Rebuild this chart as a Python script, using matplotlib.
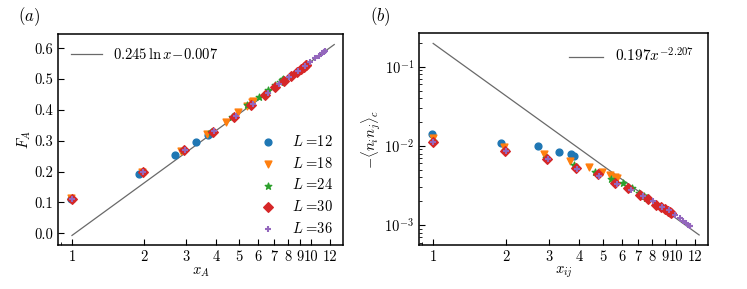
import matplotlib
matplotlib.use('Agg')
import matplotlib.pyplot as plt
import numpy as np

plt.rcParams['font.family'] = 'serif'
plt.rcParams['font.serif'] = ['cmr10']
plt.rcParams['mathtext.fontset'] = 'cm'
plt.rcParams['axes.formatter.use_mathtext'] = True
plt.rcParams['font.size'] = 10.5
plt.rcParams['axes.linewidth'] = 1.1

# chord lengths x for each system size
x12 = [0.989, 1.910, 2.701, 3.308, 3.690, 3.820]
x18 = [0.995, 1.960, 2.865, 3.683, 4.389, 4.962, 5.384, 5.643, 5.730]
x24 = [0.997, 1.977, 2.924, 3.820, 4.651, 5.402, 6.061, 6.616, 7.058,
       7.379, 7.574, 7.639]
x30 = [0.998, 1.985, 2.951, 3.884, 4.775, 5.613, 6.390, 7.097, 7.726,
       8.270, 8.724, 9.082, 9.341, 9.497, 9.549]
x36 = [0.999, 1.990, 2.966, 3.919, 4.843, 5.730, 6.573, 7.366, 8.103,
       8.778, 9.387, 9.924, 10.386, 10.768, 11.069, 11.285, 11.416, 11.459]

# panel (a): F_A
F12 = [0.111, 0.193, 0.255, 0.295, 0.318, 0.325]
F18 = [0.113, 0.200, 0.268, 0.322, 0.362, 0.392, 0.413, 0.425, 0.428]
F24 = [0.112, 0.200, 0.270, 0.328, 0.377, 0.415, 0.443, 0.465, 0.481,
       0.492, 0.498, 0.500]
F30 = [0.111, 0.200, 0.271, 0.329, 0.377, 0.416, 0.449, 0.474, 0.494,
       0.511, 0.524, 0.534, 0.540, 0.545, 0.546]
F36 = [0.111, 0.200, 0.271, 0.330, 0.380, 0.420, 0.455, 0.483, 0.506,
       0.526, 0.542, 0.556, 0.567, 0.576, 0.583, 0.588, 0.591, 0.592]

# panel (b): -<n_i n_j>_c
C12 = [0.0142, 0.0110, 0.0101, 0.0083, 0.0079, 0.0074]
C18 = [0.0125, 0.0097, 0.0079, 0.0064, 0.0054, 0.0047, 0.0043, 0.0040, 0.0039]
C24 = [0.0116, 0.0088, 0.0071, 0.0057, 0.0047, 0.0038, 0.0034, 0.0029,
       0.0025, 0.0023, 0.0022, 0.0022]
C30 = [0.0111, 0.0085, 0.0068, 0.0053, 0.0044, 0.0034, 0.0029, 0.0024,
       0.0021, 0.0018, 0.0017, 0.0016, 0.00152, 0.00145, 0.00140]
C36 = [0.0111, 0.0085, 0.0068, 0.0051, 0.0042, 0.0033, 0.0028, 0.0023,
       0.0020, 0.0017, 0.00155, 0.00135, 0.00122, 0.00113, 0.00106,
       0.00101, 0.00098, 0.00097]

sizes = [12, 18, 24, 30, 36]
markers = ['o', 'v', '*', 'D', '+']
colors = ['tab:blue', 'tab:orange', 'tab:green', 'tab:red', 'tab:purple']
xs = [x12, x18, x24, x30, x36]
Fs = [F12, F18, F24, F30, F36]
Cs = [C12, C18, C24, C30, C36]

fit_a = (0.245, -0.007)
fit_b = (0.197, -2.207)
xfit = np.linspace(1, 12.5, 200)

xticks = [1, 2, 3, 4, 5, 6, 7, 8, 9, 10, 12]

fig = plt.figure(figsize=(7.47, 2.89), dpi=100)
ax1 = fig.add_axes([58 / 747, 1 - 245 / 289, 285 / 747, 211 / 289])
ax2 = fig.add_axes([419 / 747, 1 - 245 / 289, 289 / 747, 212 / 289])

def style(ax):
    ax.set_xscale('log')
    ax.set_xticks(xticks)
    ax.set_xticklabels([str(t) for t in xticks])
    ax.tick_params(which='both', direction='in', labelsize=10.5)
    ax.tick_params(which='major', length=4)
    ax.tick_params(which='minor', length=2)
    ax.set_xlim(0.874, 13.6)

# (a)
line_a, = ax1.plot(xfit, fit_a[0] * np.log(xfit) + fit_a[1],
                   color='dimgray', lw=0.9)
pts = []
for L, x, F, m, c in zip(sizes, xs, Fs, markers, colors):
    p = ax1.scatter(x, F, marker=m, color=c, s=24, zorder=3,
                    label=r'$L\;$=' + str(L))
    pts.append(p)
style(ax1)
ax1.set_ylim(-0.038, 0.646)
ax1.set_yticks(np.arange(0, 0.61, 0.1))
ax1.set_yticklabels([f'{v:.1f}' for v in np.arange(0, 0.61, 0.1)])
ax1.set_xlabel('$x_A$', labelpad=1)
ax1.set_ylabel('$F_A$', labelpad=1)
leg1 = ax1.legend([line_a], [r'$0.245\,\ln x\!-\!0.007$'], loc='upper left',
                  frameon=False, fontsize=10.5, handlelength=2.1)
ax1.add_artist(leg1)
ax1.legend(handles=pts, loc='lower right', frameon=False, fontsize=10.5,
           handletextpad=0.7, labelspacing=0.45, borderaxespad=0.25)
fig.text(18 / 747, 1 - 17 / 289, '$(a)$', fontsize=12, va='center')

# (b)
line_b, = ax2.plot(xfit, fit_b[0] * xfit ** fit_b[1], color='dimgray', lw=0.9)
for L, x, C, m, c in zip(sizes, xs, Cs, markers, colors):
    ax2.scatter(x, C, marker=m, color=c, s=24, zorder=3)
ax2.set_yscale('log')
style(ax2)
ax2.set_ylim(5.58e-4, 0.267)
ax2.set_xlabel('$x_{ij}$', labelpad=1)
ax2.set_ylabel(r'$-\langle n_i n_j\rangle_c$', labelpad=1)
ax2.legend([line_b], [r'$0.197x^{-2.207}$'], loc='upper right',
           frameon=False, fontsize=11, handlelength=2.2)
fig.text(370 / 747, 1 - 17 / 289, '$(b)$', fontsize=12, va='center')

fig.savefig('out.png', dpi=100)
